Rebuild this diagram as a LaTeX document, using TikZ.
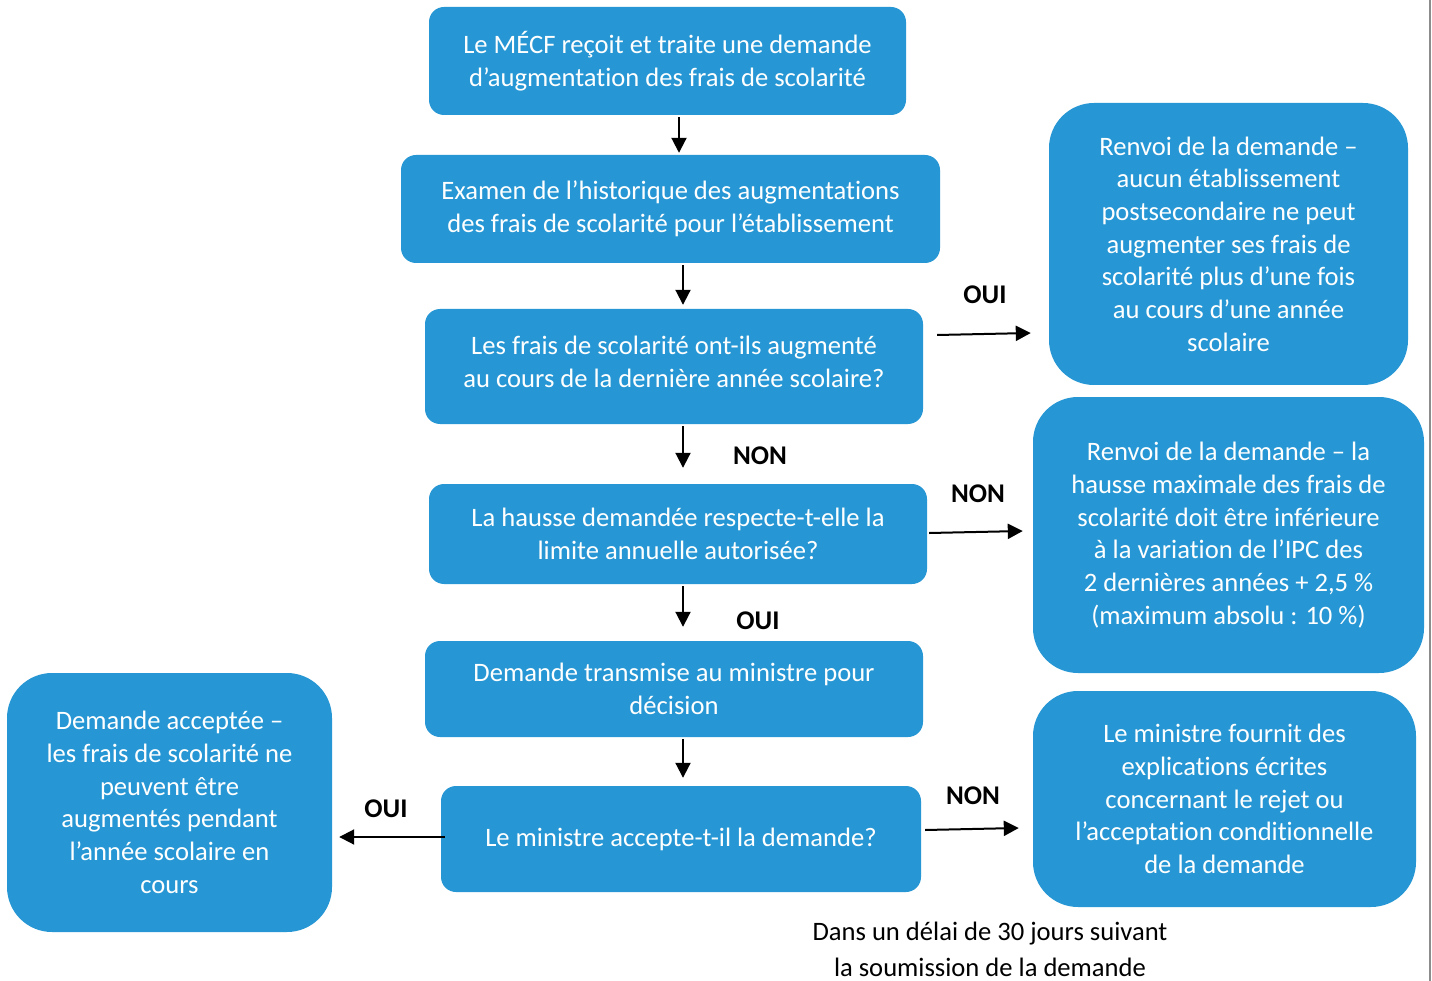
\documentclass[tikz,border=0pt]{standalone}
\usepackage{fontspec}
\setmainfont{Carlito}[Ligatures={NoCommon}]
\usetikzlibrary{arrows.meta,calc}
\definecolor{bx}{RGB}{38,151,212}
\tikzset{
  box/.style={fill=bx, text=white, rounded corners=15pt, align=center, inner sep=0pt, font=\fontsize{26.6}{32.7}\selectfont},
  bigbox/.style={box, rounded corners=45pt},
  arr/.style={-{Triangle[length=15pt,width=15pt]}, line width=2pt},
  lab/.style={font=\fontsize{27}{30}\selectfont\bfseries},
}
\begin{document}
\begin{tikzpicture}[x=1pt,y=-1pt]
\useasboundingbox (0,0) rectangle (1432,981);
\fill[white] (0,0) rectangle (1432,981);
\draw[gray!90, line width=2pt] (1430,0) -- (1430,981);
% boxes
\node[box, minimum width=477pt, minimum height=108pt] (b1) at (667.5,61) {Le MÉCF reçoit et traite une demande\\d’augmentation des frais de scolarité};
\node[box, minimum width=539pt, minimum height=108pt] (b2) at (670.5,209) {Examen de l’historique des augmentations\\des frais de scolarité pour l’établissement};
\node[box, minimum width=498pt, minimum height=115pt, text depth=10pt] (b3) at (674,366.5) {Les frais de scolarité ont-ils augmenté\\au cours de la dernière année scolaire?};
\node[box, minimum width=498pt, minimum height=100pt] (b4) at (678,534) {La hausse demandée respecte-t-elle la\\limite annuelle autorisée?};
\node[box, minimum width=498pt, minimum height=96pt] (b5) at (674,689) {Demande transmise au ministre pour\\décision};
\node[box, minimum width=480pt, minimum height=106pt] (b6) at (681,839) {Le ministre accepte-t-il la demande?};
\node[bigbox, minimum width=359pt, minimum height=282pt] (r1) at (1228.5,244) {Renvoi de la demande –\\aucun établissement\\postsecondaire ne peut\\augmenter ses frais de\\scolarité plus d’une fois\\au cours d’une année\\scolaire};
\node[bigbox, minimum width=391pt, minimum height=276pt] (r2) at (1228.5,535) {Renvoi de la demande – la\\hausse maximale des frais de\\scolarité doit être inférieure\\à la variation de l’IPC des\\2 dernières années + 2,5 \%\\(maximum absolu : 10 \%)};
\node[bigbox, minimum width=383pt, minimum height=216pt] (r3) at (1224.5,799) {Le ministre fournit des\\explications écrites\\concernant le rejet ou\\l’acceptation conditionnelle\\de la demande};
\node[bigbox, minimum width=325pt, minimum height=259pt] (l1) at (169.5,802.5) {Demande acceptée –\\les frais de scolarité ne\\peuvent être\\augmentés pendant\\l’année scolaire en\\cours};
% arrows
\draw[arr] ($(b1.south)+(11.5,2)$) -- ($(b2.north)+(8.5,-2)$);
\draw[arr] ($(b2.south)+(12.5,2)$) -- ($(b3.north)+(9,-4)$);
\draw[arr] ($(b3.south)+(9,2)$) -- ($(b4.north)+(5,-16)$);
\draw[arr] ($(b4.south)+(5,2)$) -- ($(b5.north)+(9,-14)$);
\draw[arr] ($(b5.south)+(9,2)$) -- ($(b6.north)+(2,-8)$);
\draw[arr] ($(b3.east)+(14,-31.5)$) -- ($(r1.west)+(-18,89)$);
\draw[arr] ($(b4.east)+(2,-1)$) -- ($(r2.west)+(-10,-4)$);
\draw[arr] ($(b6.east)+(4,-9)$) -- ($(r3.west)+(-14,29)$);
\draw[arr] ($(b6.west)+(4,-2)$) -- ($(l1.east)+(7,34.5)$);
% labels
\node[lab] (t1) at (985,295) {OUI};
\node[lab] (t2) at (760,456) {NON};
\node[lab] (t3) at (978,494) {NON};
\node[lab, fill=white, inner sep=0pt, minimum width=88pt, minimum height=40pt] (t4) at (758,621) {OUI};
\node[lab] (t5) at (386,809) {OUI};
\node[lab] (t6) at (973,796) {NON};
\node[font=\fontsize{26.6}{36}\selectfont, align=center] (note) at (990,949) {Dans un délai de 30 jours suivant\\la soumission de la demande};
\end{tikzpicture}
\end{document}
